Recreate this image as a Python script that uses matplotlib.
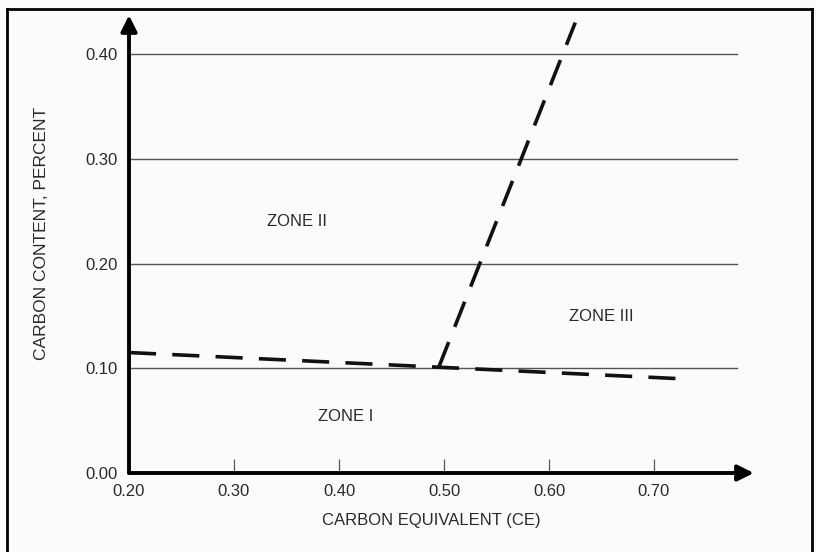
import matplotlib
matplotlib.use("Agg")
import matplotlib.pyplot as plt
from matplotlib.lines import Line2D

plt.rcParams['font.family'] = ['Liberation Sans', 'DejaVu Sans']

# axis ticks
x_ticks = [0.20, 0.30, 0.40, 0.50, 0.60, 0.70]
x_labels = ['0.20', '0.30', '0.40', '0.50', '0.60', '0.70']
y_ticks = [0.00, 0.10, 0.20, 0.30, 0.40]
y_labels = ['0.00', '0.10', '0.20', '0.30', '0.40']
grid_y = [0.10, 0.20, 0.30, 0.40]

# zone boundaries (dashed)
low_ce = [0.20, 0.495, 0.725]
low_c = [0.115, 0.101, 0.090]
steep_ce = [0.495, 0.625]
steep_c = [0.101, 0.430]

# zone labels
zone_names = ['ZONE I', 'ZONE II', 'ZONE III']
zone_ce = [0.406, 0.360, 0.650]
zone_c = [0.054, 0.240, 0.149]

txt = '#2a2a2a'
fs = 12

fig = plt.figure(figsize=(8.16, 5.52), dpi=100)
fig.patch.set_facecolor('#fbfbfb')
W, H = 816, 552
ax = fig.add_axes([129 / W, (H - 473) / H, (760 - 129) / W, (473 - 12) / H])
ax.set_facecolor('none')
ax.set_xlim(0.20, 0.20 + (760 - 129) / 1050)
ax.set_ylim(0.0, (473 - 12) / 1047.5)
for s in ax.spines.values():
    s.set_visible(False)

# horizontal grid lines
for g in grid_y:
    ax.plot([0.20, 0.779], [g, g], color='#555555', lw=1.0, zorder=1)

# axes with arrows
ax.annotate('', xy=(0.795, 0), xytext=(0.20, 0),
            arrowprops=dict(arrowstyle='-|>', lw=2.8, color='black',
                            mutation_scale=24, shrinkA=0, shrinkB=0), zorder=5)
ax.annotate('', xy=(0.20, 0.437), xytext=(0.20, 0),
            arrowprops=dict(arrowstyle='-|>', lw=2.8, color='black',
                            mutation_scale=24, shrinkA=0, shrinkB=0), zorder=5)

# dashed boundaries
ax.plot(low_ce, low_c, color='#111111', lw=2.6, dashes=(7.5, 4.5),
        dash_capstyle='butt', zorder=3)
ax.plot(steep_ce, steep_c, color='#111111', lw=2.6, dashes=(7.5, 4.5),
        dash_capstyle='butt', zorder=3)

for name, xx, yy in zip(zone_names, zone_ce, zone_c):
    ax.text(xx, yy, name, ha='center', va='center', fontsize=fs, color=txt)

ax.set_xticks(x_ticks)
ax.set_xticklabels(x_labels)
ax.set_yticks(y_ticks)
ax.set_yticklabels(y_labels)
ax.tick_params(axis='x', direction='in', length=10, width=0.9, color='#555555',
               pad=8, labelsize=fs, labelcolor=txt)
ax.tick_params(axis='y', length=0, pad=8, labelsize=fs, labelcolor=txt)

fig.text(431 / W, 1 - 520 / H, 'CARBON EQUIVALENT (CE)', ha='center', va='center',
         fontsize=fs, color=txt)
fig.text(42 / W, 1 - 233 / H, 'CARBON CONTENT, PERCENT', ha='center', va='center',
         rotation=90, fontsize=12.5, color=txt)

# page frame
fx0, fx1, fy1 = 7 / W, 812 / W, 1 - 9 / H
for xs, ys in [([fx0, fx0], [0, fy1]), ([fx0, fx1], [fy1, fy1]), ([fx1, fx1], [fy1, 0])]:
    fig.add_artist(Line2D(xs, ys, transform=fig.transFigure, color='black', lw=2.0))

fig.savefig('out.png', dpi=100, facecolor=fig.get_facecolor())
